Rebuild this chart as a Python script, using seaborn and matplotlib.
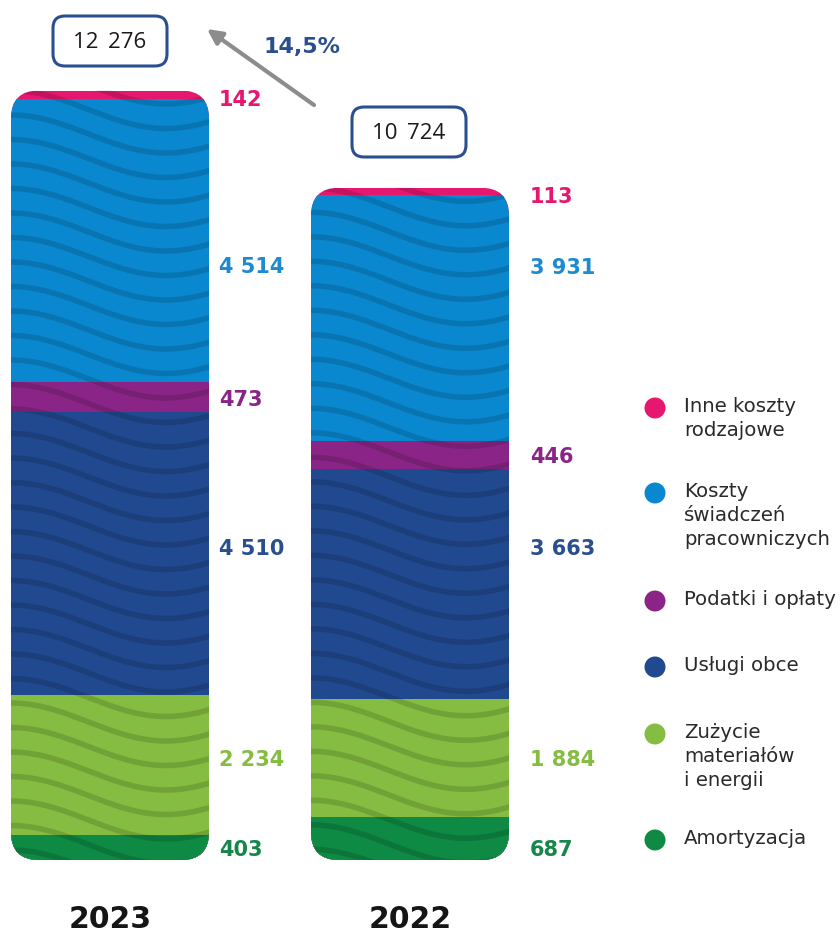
import numpy as np
import pandas as pd
import matplotlib
matplotlib.use("Agg")
import matplotlib.pyplot as plt
import seaborn as sns
from matplotlib.patches import FancyBboxPatch, Circle

# ---------------- data ----------------
years = ["2023", "2022"]
categories = ["Amortyzacja", "Zużycie materiałów i energii", "Usługi obce",
              "Podatki i opłaty", "Koszty świadczeń pracowniczych", "Inne koszty rodzajowe"]
values_2023 = [403, 2234, 4510, 473, 4514, 142]
values_2022 = [687, 1884, 3663, 446, 3931, 113]
value_labels_2023 = ["403", "2 234", "4 510", "473", "4 514", "142"]
value_labels_2022 = ["687", "1 884", "3 663", "446", "3 931", "113"]
total_labels = ["12 276", "10 724"]
change_label = "14,5%"
legend_labels = ["Amortyzacja", "Zużycie\nmateriałów\ni energii", "Usługi obce",
                 "Podatki i opłaty", "Koszty\nświadczeń\npracowniczych", "Inne koszty\nrodzajowe"]

# ---------------- style ----------------
colors = ["#0E8A44", "#84BD41", "#21498F", "#8A2587", "#0A88CF", "#E5176E"]
label_colors = ["#17864A", "#84BD41", "#2A4F8E", "#8A2587", "#1E8AD0", "#E5176E"]

sns.set_theme(style="white")
plt.rcParams["font.family"] = ["DejaVu Sans"]

W, H = 840, 941
fig = plt.figure(figsize=(W / 100, H / 100), dpi=100)
ax = fig.add_axes([0, 0, 1, 1])

# layout (pixels)
base_px = 860
U = 12276 / 769.5              # data units per pixel (vertical)
cx0 = 110                      # pixel centre of first bar
sx = 300                       # pixels per category step

def px2y(py):
    return (base_px - py) * U

# long-form table with cumulative heights
rows = []
for y, vals in zip(years, [values_2023, values_2022]):
    cum = np.cumsum(vals)
    for c, v, cu in zip(categories, vals, cum):
        rows.append(dict(year=y, category=c, value=v, cum=cu))
df = pd.DataFrame(rows)

# stacked bars: draw cumulative totals from the top category down
bar_width = 0.66
for i in range(len(categories) - 1, -1, -1):
    sub = df[df["category"] == categories[i]]
    sns.barplot(data=sub, x="year", y="cum", order=years, color=colors[i],
                saturation=1, width=bar_width, edgecolor="none", linewidth=0,
                errorbar=None, ax=ax)
ax.set_xlim(-cx0 / sx, (W - cx0) / sx)
ax.set_ylim(-(H - base_px) * U, base_px * U)
ax.set_axis_off()

# rounded clip shapes from the tallest patches (first drawn)
r_px = 28
rx = r_px / sx
ry = r_px * U
clips = []
for p in ax.patches[:2]:
    cp = FancyBboxPatch((p.get_x(), 0), p.get_width(), p.get_height(),
                        boxstyle=f"round,pad=0,rounding_size={rx}",
                        mutation_aspect=ry / rx, transform=ax.transData,
                        facecolor="none", edgecolor="none")
    clips.append(cp)
for p in ax.patches:
    j = int(round(p.get_x() + p.get_width() / 2))
    p.set_clip_path(clips[j])

# overlay axes in pixel coordinates for decoration
ov = fig.add_axes([0, 0, 1, 1])
ov.set_xlim(0, W)
ov.set_ylim(H, 0)
ov.set_axis_off()
ov.patch.set_alpha(0)

# wavy texture
for j, p in enumerate(ax.patches[:2]):
    xl = cx0 + (p.get_x()) * sx
    xr = xl + p.get_width() * sx
    top_px = base_px - p.get_height() / U
    xs = np.linspace(xl - 5, xr + 5, 200)
    for c in np.arange(top_px - 30, base_px + 40, 24.5):
        ys = c - 19 * np.cos(2 * np.pi * (xs - xl) / 310)
        ln, = ov.plot(xs, ys, color="black", alpha=0.14, lw=4.0,
                      solid_capstyle="butt")
        ln.set_clip_path(clips[j])

# value labels
label_y_px = [[850, 760, 549, 400, 267, 100], [850, 760, 549, 457, 268, 197]]
label_dx_px = [10, 21]
for j, labs in enumerate([value_labels_2023, value_labels_2022]):
    p = ax.patches[j]
    xr = p.get_x() + p.get_width()
    for k, lab in enumerate(labs):
        ax.text(xr + label_dx_px[j] / sx, px2y(label_y_px[j][k]), lab,
                ha="left", va="center", fontsize=15, fontweight="bold",
                color=label_colors[k])

# year labels
for j, y in enumerate(years):
    ax.text(j, px2y(920), y, ha="center", va="center", fontsize=21.5,
            fontweight="bold", color="#151515")

# total boxes
box_centers = [(110, 41), (409, 132)]
for (bx, by), lab in zip(box_centers, total_labels):
    bw, bh = 114, 50
    ov.add_patch(FancyBboxPatch((bx - bw / 2, by - bh / 2), bw, bh,
                                boxstyle="round,pad=0,rounding_size=12",
                                facecolor="white", edgecolor="#2A4F8E", lw=2.2))
    ov.text(bx, by + 1, lab.replace(" ", "\u2009 "), ha="center", va="center",
            fontsize=16, color="#1a1a1a", family=["Open Sans", "DejaVu Sans"])

# arrow and change label
ov.annotate("", xy=(207, 29), xytext=(314, 105),
            arrowprops=dict(arrowstyle="-|>", color="#8C8C8C", lw=3,
                            mutation_scale=22, shrinkA=0, shrinkB=0))
ov.text(302, 47, change_label, ha="center", va="center", fontsize=16,
        fontweight="bold", color="#2A4F8E")

# legend
leg_y = [840, 734, 667, 601, 493, 408]
for k in range(len(categories)):
    ov.add_patch(Circle((655, leg_y[k]), 10.5, color=colors[k], lw=0))
    ov.text(684, leg_y[k] - 11, legend_labels[k], ha="left", va="top",
            fontsize=14.2, color="#2a2a2a", linespacing=1.32)

fig.savefig("out.png", dpi=100)
